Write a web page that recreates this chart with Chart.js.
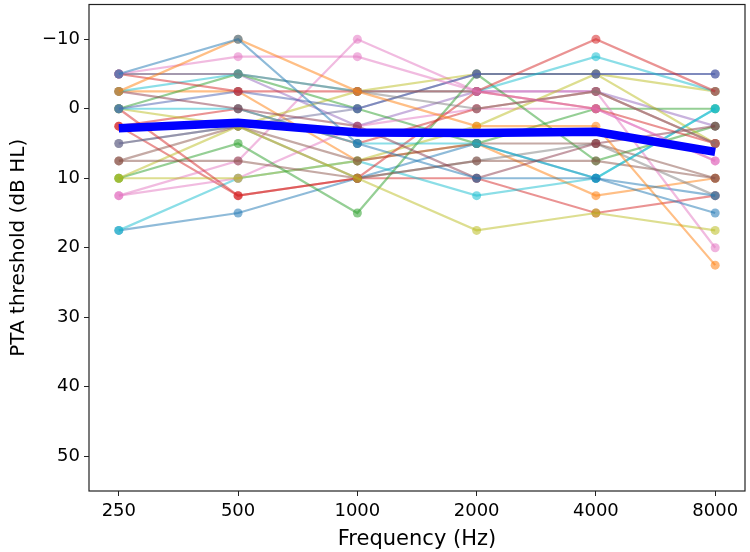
<!DOCTYPE html>
<html><head><meta charset="utf-8">
<script src="https://cdn.jsdelivr.net/npm/chart.js@4"></script>
<style>html,body{margin:0;padding:0;background:#fff}</style>
</head><body>
<canvas id="c" width="750" height="552"></canvas>
<script>
// ---- data ----
const frequencies = ['250', '500', '1000', '2000', '4000', '8000'];
const yTickValues = [-10, 0, 10, 20, 30, 40, 50];

const subject01 = [-5, -10, 5, 10, 10, 15];
const subject02 = [-2.5, -10, -2.5, 2.5, 2.5, 22.5];
const subject03 = [-5, -7.5, -7.5, -2.5, 0, 7.5];
const subject04 = [-5, -5, -2.5, 0, -2.5, 5];
const subject05 = [-5, -2.5, -2.5, -2.5, -10, -2.5];
const subject06 = [-2.5, -5, -2.5, -2.5, -7.5, -2.5];
const subject07 = [-2.5, 0, 2.5, 10, 5, 2.5];
const subject08 = [0, -2.5, 0, -5, -5, -5];
const subject09 = [0, 0, 5, 5, 10, 0];
const subject10 = [0, 2.5, 10, 17.5, 15, 17.5];
const subject11 = [0, 12.5, 10, -2.5, 0, 5];
const subject12 = [2.5, 0, 5, 0, -2.5, 5];
const subject13 = [5, 2.5, 0, -5, -5, -5];
const subject14 = [7.5, 2.5, 7.5, 5, 5, 10];
const subject15 = [7.5, 7.5, 10, 7.5, 7.5, 10];
const subject16 = [10, 2.5, -2.5, -5, -5, 5];
const subject17 = [10, 5, 15, -5, 7.5, 2.5];
const subject18 = [10, 10, 7.5, 2.5, -5, -2.5];
const subject19 = [12.5, 7.5, -10, -2.5, -2.5, 20];
const subject20 = [12.5, 10, 2.5, 0, 0, 7.5];
const subject21 = [17.5, 10, 7.5, 12.5, 10, 0];
const subject22 = [17.5, 15, 10, 5, 10, 12.5];
const subject23 = [0, -5, 0, 5, 0, 0];
const subject24 = [-5, -5, 2.5, -2.5, -2.5, 2.5];
const subject25 = [5, 2.5, 10, 7.5, 5, 12.5];
const subject26 = [2.5, 12.5, 10, 10, 15, 12.5];
const subject27 = [-2.5, -2.5, 7.5, 5, 12.5, 10];

const meanThreshold = [2.8, 2.0, 3.4, 3.5, 3.3, 6.2];

const subjects = [subject01, subject02, subject03, subject04, subject05, subject06, subject07,
  subject08, subject09, subject10, subject11, subject12, subject13, subject14, subject15,
  subject16, subject17, subject18, subject19, subject20, subject21, subject22, subject23,
  subject24, subject25, subject26, subject27];

// ---- style ----
const subjectColors = ['#1f77b4', '#ff7f0e', '#e377c2', '#7f7f7f', '#d62728', '#17becf', '#8c3a4b',
  '#4a5fb0', '#17becf', '#bcbd22', '#d62728', '#d62728', '#6b6b9a', '#8c564b', '#8c564b',
  '#bcbd22', '#2ca02c', '#bcbd22', '#e377c2', '#e377c2', '#17becf', '#1f77b4', '#2ca02c',
  '#9467bd', '#7f7f7f', '#d62728', '#ff7f0e'];

function alpha(hex, a) {
  const r = parseInt(hex.slice(1, 3), 16), g = parseInt(hex.slice(3, 5), 16), b = parseInt(hex.slice(5, 7), 16);
  return `rgba(${r},${g},${b},${a})`;
}

const toPoints = arr => arr.map((v, i) => ({ x: i, y: v }));

const datasets = subjects.map((s, k) => ({
  data: toPoints(s),
  borderColor: alpha(subjectColors[k], 0.5),
  backgroundColor: alpha(subjectColors[k], 0.55),
  pointBackgroundColor: alpha(subjectColors[k], 0.55),
  pointBorderColor: alpha(subjectColors[k], 0.55),
  pointBorderWidth: 0,
  pointRadius: 4.5,
  borderWidth: 2.2,
  tension: 0,
  order: 1
}));
datasets.push({
  data: toPoints(meanThreshold),
  borderColor: '#0000ff',
  backgroundColor: '#0000ff',
  borderWidth: 8.5,
  pointRadius: 0,
  tension: 0,
  order: 0
});

const frame = {
  id: 'frame',
  afterDraw(chart) {
    const { ctx, chartArea: a } = chart;
    ctx.save();
    ctx.strokeStyle = '#222';
    ctx.lineWidth = 1.2;
    ctx.strokeRect(a.left, a.top, a.right - a.left, a.bottom - a.top);
    ctx.restore();
  }
};

Chart.defaults.font.family = 'DejaVu Sans';
Chart.defaults.color = '#000';

new Chart(document.getElementById('c'), {
  type: 'line',
  data: { datasets },
  options: {
    responsive: false,
    animation: false,
    devicePixelRatio: 1,
    layout: { padding: { top: 3, right: 5, left: 0, bottom: 0 } },
    plugins: { legend: { display: false }, tooltip: { enabled: false } },
    scales: {
      x: {
        type: 'linear',
        min: -0.25,
        max: 5.25,
        afterBuildTicks: s => { s.ticks = frequencies.map((f, i) => ({ value: i })); },
        afterFit: s => { s.height = 61; s.paddingLeft = 0; s.paddingRight = 0; },
        ticks: {
          callback: v => frequencies[v],
          font: { size: 18 },
          padding: 5,
          maxRotation: 0
        },
        grid: { display: true, drawOnChartArea: false, drawTicks: true, tickLength: 5, color: '#222', lineWidth: 1 },
        border: { display: false },
        title: { display: true, text: 'Frequency (Hz)', font: { size: 21 }, padding: { top: 0, bottom: 0 } }
      },
      y: {
        type: 'linear',
        reverse: true,
        min: -15,
        max: 55,
        afterBuildTicks: s => { s.ticks = yTickValues.map(v => ({ value: v })); },
        afterFit: s => { s.width = 89; s.paddingTop = 0; s.paddingBottom = 0; },
        ticks: {
          callback: v => String(v).replace('-', '\u2212'),
          font: { size: 18 },
          padding: 4
        },
        grid: { display: true, drawOnChartArea: false, drawTicks: true, tickLength: 5, color: '#222', lineWidth: 1 },
        border: { display: false },
        title: { display: true, text: 'PTA threshold (dB HL)', font: { size: 20 }, padding: { top: 7, bottom: 4 } }
      }
    }
  },
  plugins: [frame]
});
</script>
</body></html>
